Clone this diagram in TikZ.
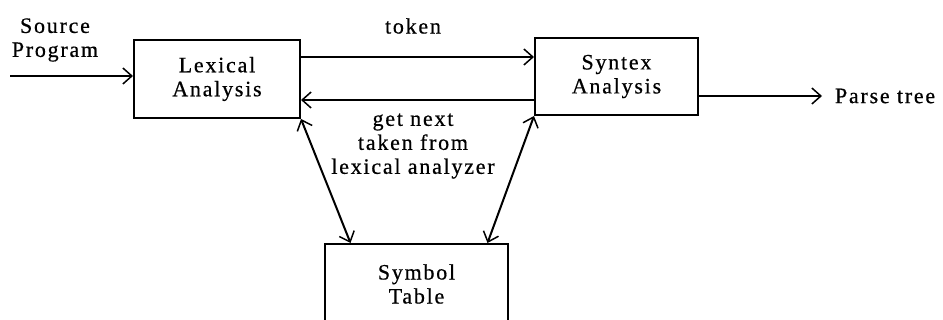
\documentclass[tikz,border=0pt]{standalone}
\usepackage{fontspec}
\setmainfont{Liberation Serif}[LetterSpace=8, FakeBold=0.6]
\usetikzlibrary{arrows.meta}

\begin{document}
\begin{tikzpicture}[x=1pt, y=-1pt, line width=2pt,
    font=\fontsize{22}{24}\selectfont,
    >={Straight Barb[length=9pt, width=16pt, line width=1.5pt]},
    phasebox/.style={draw, align=center, inner sep=0pt},
    lbl/.style={align=center, inner sep=0pt}]

  \useasboundingbox (0, 0) rectangle (943, 320);

  %% ===================== BOXES =====================
  \node[phasebox, minimum width=166, minimum height=78] (lex) at (217, 79)
    {Lexical\\Analysis};
  \node[phasebox, minimum width=163, minimum height=77] (syn) at (616.5, 76.5)
    {Syntex\\Analysis};
  \node[phasebox, minimum width=183, minimum height=80] (sym) at (416.5, 284)
    {Symbol\\Table};

  %% ===================== LABELS =====================
  \node[lbl] (src) at (55, 40) {Source\\Program};
  \node[lbl] (tok) at (413, 26) {token};
  \node[lbl] (getnext) at (413, 146) {get next\\taken from\\lexical analyzer};
  \node[lbl, anchor=west, inner xsep=12pt] (parse) at (822, 96) {Parse tree};

  % end points of the horizontal connectors
  \coordinate (srcin) at (10, 76);
  \coordinate (tokY) at (0, 57);
  \coordinate (backY) at (0, 100);

  %% =================== CONNECTORS ===================
  \draw[->] (srcin) -- (lex.west |- srcin);
  \draw[->] (lex.east |- tokY) -- (syn.west |- tokY);
  \draw[->] (syn.west |- backY) -- (lex.east |- backY);
  \draw[->] (syn.east |- parse.west) -- (parse.west);

  % both analysers talk to the symbol table
  \draw[<->] (lex.south east) -- ([xshift=-66pt]sym.north);
  \draw[<->] (syn.south west) -- ([xshift=71pt]sym.north);

\end{tikzpicture}
\end{document}
